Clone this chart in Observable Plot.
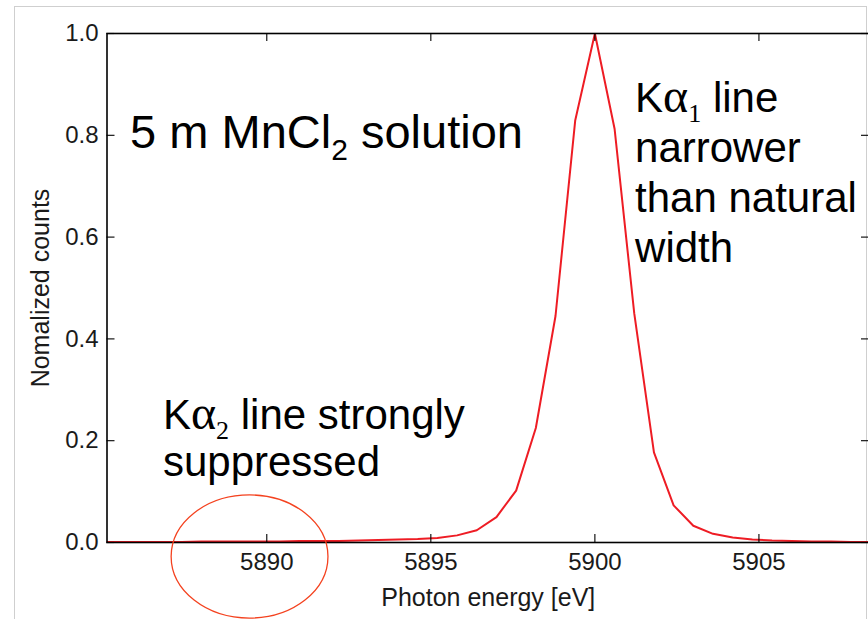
<!DOCTYPE html>
<html><head><meta charset="utf-8">
<script src="https://cdn.jsdelivr.net/npm/d3@7"></script>
<script src="https://cdn.jsdelivr.net/npm/@observablehq/plot@0.6"></script>
<style>
html,body{margin:0;padding:0;background:#fff;}
#wrap{position:relative;width:868px;height:619px;overflow:hidden;background:#fff;}
#border{position:absolute;left:14px;top:6px;width:851px;height:700px;border-left:1.5px solid #cfcfcf;border-top:1.5px solid #cfcfcf;border-right:1.5px solid #cfcfcf;}
#chart{position:absolute;left:0;top:0;}
</style></head>
<body><div id="wrap"><div id="border"></div><div id="chart"></div></div>
<script>
// Photon energy (eV) sample points
const energy = [5885.0,5885.6,5886.2,5886.8,5887.4,5888.0,5888.6,5889.2,5889.8,5890.4,
  5891.0,5891.6,5892.2,5892.8,5893.4,5894.0,5894.6,5895.2,5895.8,5896.4,
  5897.0,5897.6,5898.2,5898.8,5899.4,5900.0,5900.6,5901.2,5901.8,5902.4,
  5903.0,5903.6,5904.2,5904.8,5905.4,5906.0,5906.6,5907.2,5907.8,5908.4];
// Normalized counts
const counts = [0.001,0.001,0.001,0.001,0.001,0.002,0.002,0.002,0.002,0.002,
  0.003,0.003,0.003,0.004,0.005,0.006,0.007,0.009,0.014,0.024,
  0.050,0.102,0.225,0.445,0.829,1.000,0.813,0.450,0.177,0.073,
  0.033,0.017,0.010,0.006,0.004,0.003,0.002,0.002,0.001,0.001];
const xTicks = [5890, 5895, 5900, 5905];
const yTicks = [0.0, 0.2, 0.4, 0.6, 0.8, 1.0];
const xLabel = "Photon energy [eV]";
const yLabel = "Nomalized counts";

const data = energy.map((e, i) => ({energy: e, counts: counts[i]}));

const W = 868, H = 619, mL = 106.5, mT = 33, mB = 77, mR = -1;
const plotW = W - mL - mR, plotH = H - mT - mB;
const SANS = "'Liberation Sans', Arial, sans-serif";
const SERIF = "'Liberation Serif', 'DejaVu Serif', serif";
const AXF = "'Liberation Sans', Arial, sans-serif";

// rich text annotation: lines of segments [text, font, size, baselineShift]
function richText(xv, yv, lines, lineHeight) {
  return (index, scales) => {
    const g = d3.create("svg:g").attr("text-anchor", "start");
    const x0 = scales.x(xv), y0 = scales.y(yv);
    lines.forEach((segs, li) => {
      const t = g.append("text")
        .attr("x", x0).attr("y", y0 + li * lineHeight)
        .attr("text-anchor", "start")
        .attr("fill", "black");
      let shift = 0;
      segs.forEach(([txt, fam, size, bs]) => {
        const s = bs || 0;
        t.append("tspan").attr("dy", s - shift)
          .style("font-family", fam).style("font-size", size + "px")
          .text(txt);
        shift = s;
      });
    });
    return g.node();
  };
}

function ellipseMark(cx, cy, rxv, ryv) {
  return (index, scales) => {
    const px = scales.x(cx), py = scales.y(cy);
    const rx = Math.abs(scales.x(cx + rxv) - px);
    const ry = Math.abs(scales.y(cy + ryv) - py);
    return d3.create("svg:ellipse")
      .attr("cx", px).attr("cy", py).attr("rx", rx).attr("ry", ry)
      .attr("fill", "none").attr("stroke", "#f4421f").attr("stroke-width", 1.3)
      .node();
  };
}

const chart = Plot.plot({
  width: W, height: H,
  marginLeft: mL, marginRight: mR, marginTop: mT, marginBottom: mB,
  style: {background: "transparent", overflow: "visible"},
  x: {domain: [5885.13, 5908.37], axis: null},
  y: {domain: [0, 1], axis: null},
  marks: [
    Plot.line(data, {x: "energy", y: "counts", stroke: "#ee1c24", strokeWidth: 2, clip: true}),
    Plot.frame({stroke: "black", strokeWidth: 1.6}),
    Plot.tickX(xTicks, {x: d => d, stroke: "black", strokeWidth: 1.1, insetTop: plotH - 8}),
    Plot.tickX(xTicks, {x: d => d, stroke: "black", strokeWidth: 1.1, insetBottom: plotH - 8}),
    Plot.tickY(yTicks, {y: d => d, stroke: "black", strokeWidth: 1.1, insetRight: plotW - 8}),
    Plot.tickY(yTicks, {y: d => d, stroke: "black", strokeWidth: 1.1, insetLeft: plotW - 8}),
    Plot.text(xTicks, {x: d => d, frameAnchor: "bottom", lineAnchor: "middle", dy: 20,
      text: d => String(d), fontSize: 24, fontFamily: AXF, fill: "#1a1a1a"}),
    Plot.text(yTicks, {y: d => d, frameAnchor: "left", lineAnchor: "middle", dx: -8.5, textAnchor: "end",
      text: d => d3.format(".1f")(d), fontSize: 24, fontFamily: AXF, fill: "#1a1a1a"}),
    Plot.text([xLabel], {frameAnchor: "bottom", lineAnchor: "middle", textAnchor: "middle", dy: 55,
      text: d => d, fontSize: 25, fontFamily: AXF, fill: "#1a1a1a"}),
    Plot.text([yLabel], {frameAnchor: "left", lineAnchor: "middle", textAnchor: "middle", dx: -66.5, rotate: -90,
      text: d => d, fontSize: 25, fontFamily: AXF, fill: "#1a1a1a"}),
    richText(5885.85, 0.774, [[["5 m MnCl", SANS, 47], ["2", SANS, 30, 12], [" solution", SANS, 47, 0]]], 56),
    richText(5901.24, 0.845, [
      [["K", SANS, 42], ["α", SERIF, 48, 0], ["1", SERIF, 26, 10], [" line", SANS, 42, 0]],
      [["narrower", SANS, 42]],
      [["than natural", SANS, 42]],
      [["width", SANS, 42]]
    ], 50),
    richText(5886.85, 0.222, [
      [["K", SANS, 42], ["α", SERIF, 48, 0], ["2", SERIF, 26, 10], [" line strongly", SANS, 42, 0]],
      [["suppressed", SANS, 42]]
    ], 47),
    ellipseMark(5889.49, -0.0285, 2.39, 0.121)
  ]
});
document.getElementById("chart").appendChild(chart);
</script>
</body></html>
